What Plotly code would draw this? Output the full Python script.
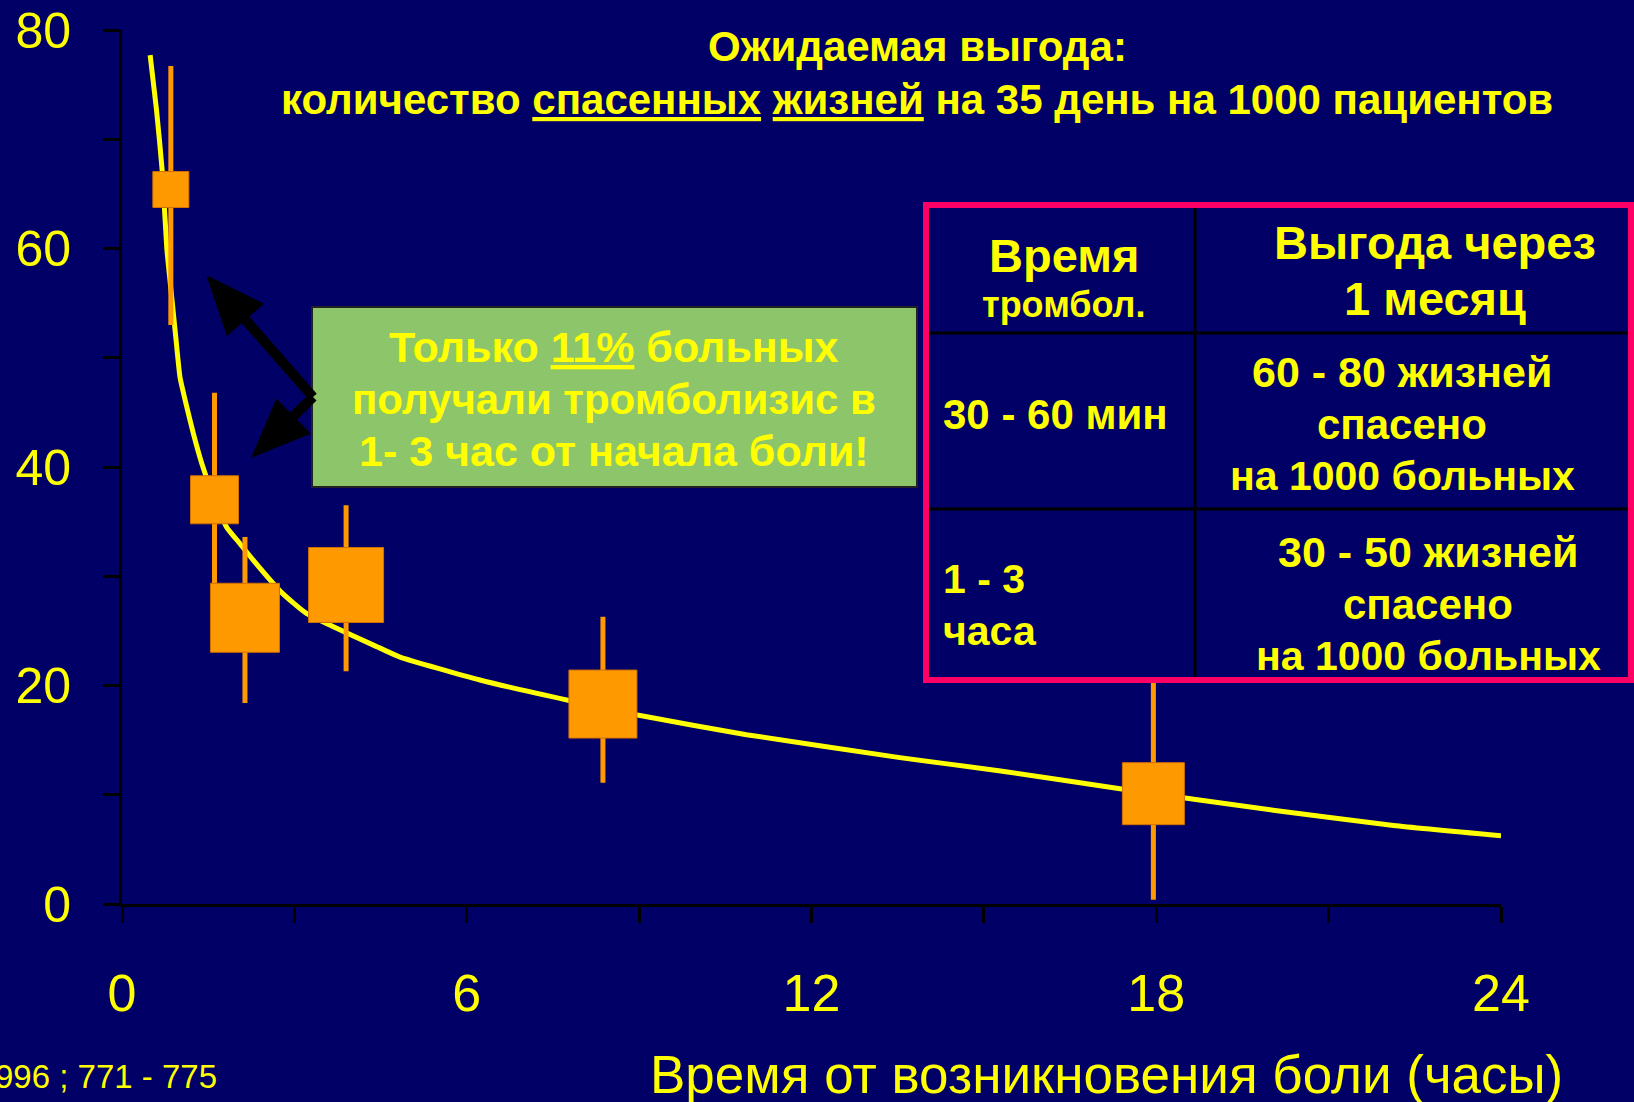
import math
import plotly.graph_objects as go

# ---------------- data ----------------
# pooled curve: expected lives saved per 1000 patients vs. hours from pain onset
curve_hours = [0.49, 0.60, 0.70, 0.78, 0.87, 0.93, 1.01, 1.10, 1.24, 1.39, 1.59, 1.82,
               2.05, 2.28, 2.78, 3.21, 4.50, 4.84, 6.23, 7.80, 8.97, 10.87, 13.54,
               15.26, 17.37, 20.07, 22.13, 24.00]
curve_lives = [77.7, 72.7, 67.1, 60.0, 55.3, 52.2, 48.2, 46.1, 43.1, 40.3, 37.3, 34.5,
               33.0, 31.5, 28.5, 26.6, 23.4, 22.6, 20.5, 18.6, 17.3, 15.5, 13.4,
               12.2, 10.55, 8.56, 7.19, 6.25]

# grouped trial results (point estimate with confidence interval)
trial_hours = [0.85, 1.61, 2.14, 3.90, 8.37, 17.95]
trial_lives = [65.4, 37.0, 26.2, 29.2, 18.3, 10.1]
ci_upper = [76.7, 46.8, 33.6, 36.5, 26.3, 20.6]
ci_lower = [53.0, 27.9, 18.4, 21.3, 11.1, 0.4]

x_tick_values = [0, 3, 6, 9, 12, 15, 18, 21, 24]
x_tick_labels = ["0", "", "6", "", "12", "", "18", "", "24"]
y_tick_values = [0, 10, 20, 30, 40, 50, 60, 70, 80]
y_tick_labels = ["0", "", "20", "", "40", "", "60", "", "80"]

# ---------------- styles ----------------
marker_px = [36, 48, 69, 75, 68, 62]
NAVY = "#000066"
YELLOW = "#FFFF00"
ORANGE = "#FF9900"
PINK = "#FF0066"
GREEN = "#8DC66A"
FONT = "Liberation Sans, Arial, sans-serif"

W_FIG, H_FIG = 1634, 1102
L, T, W, H = 122, 30, 1379, 874


def px(x):
    return (x - L) / W


def py(y):
    return (T + H - y) / H


fig = go.Figure()

fig.add_trace(go.Scatter(
    x=curve_hours, y=curve_lives, mode="lines",
    line=dict(color=YELLOW, width=5, shape="spline", smoothing=0.5),
    hoverinfo="skip"))

fig.add_trace(go.Scatter(
    x=trial_hours, y=trial_lives, mode="markers",
    marker=dict(symbol="square", size=marker_px, color=ORANGE, opacity=1,
                line=dict(width=1, color="#D07000")),
    error_y=dict(type="data", symmetric=False,
                 array=[u - v for u, v in zip(ci_upper, trial_lives)],
                 arrayminus=[v - l for v, l in zip(trial_lives, ci_lower)],
                 thickness=5, width=0, color=ORANGE),
    hoverinfo="skip"))

shapes = []
# green call-out box
shapes.append(dict(type="rect", xref="paper", yref="paper",
                   x0=px(312), x1=px(917), y0=py(487), y1=py(307),
                   fillcolor=GREEN, line=dict(color="#222222", width=2), layer="above"))


def arrow(tail, tip, head_len=58, head_half=24, width=10):
    dx, dy = tip[0] - tail[0], tip[1] - tail[1]
    n = math.hypot(dx, dy)
    ux, uy = dx / n, dy / n
    bx, by = tip[0] - ux * head_len, tip[1] - uy * head_len
    nx, ny = -uy, ux
    out = [dict(type="line", xref="paper", yref="paper",
                x0=px(tail[0]), y0=py(tail[1]), x1=px(bx + ux * 4), y1=py(by + uy * 4),
                line=dict(color="black", width=width), layer="above")]
    c1 = (bx + nx * head_half, by + ny * head_half)
    c2 = (bx - nx * head_half, by - ny * head_half)
    path = "M {} {} L {} {} L {} {} Z".format(px(tip[0]), py(tip[1]), px(c1[0]), py(c1[1]),
                                              px(c2[0]), py(c2[1]))
    out.append(dict(type="path", xref="paper", yref="paper", path=path,
                    fillcolor="black", line=dict(color="black", width=1), layer="above"))
    return out

shapes += arrow((313, 397), (207, 276))
shapes += arrow((313, 397), (252, 457))

# table
TL, TR, TT, TB = 926, 1631, 205, 680
shapes.append(dict(type="rect", xref="paper", yref="paper",
                   x0=px(TL), x1=px(TR), y0=py(TB), y1=py(TT),
                   fillcolor=NAVY, line=dict(color=PINK, width=6), layer="above"))
shapes.append(dict(type="line", xref="paper", yref="paper",
                   x0=px(1195), x1=px(1195), y0=py(TB - 3), y1=py(TT + 3),
                   line=dict(color="black", width=3), layer="above"))
for yy in (333, 509):
    shapes.append(dict(type="line", xref="paper", yref="paper",
                       x0=px(TL + 3), x1=px(TR - 3), y0=py(yy), y1=py(yy),
                       line=dict(color="black", width=3), layer="above"))

annotations = []


def txt(x, y, text, size, bold=True, xanchor="center", align="center"):
    annotations.append(dict(
        xref="paper", yref="paper", x=px(x), y=py(y), text=text, showarrow=False,
        xanchor=xanchor, yanchor="middle", align=align,
        font=dict(family=FONT, size=size, color=YELLOW,
                  weight="bold" if bold else "normal")))

# title
txt(917, 47, "Ожидаемая выгода:", 42)
txt(917, 100, "количество <u>спасенных</u> <u>жизней</u> на 35 день на 1000 пациентов", 42)

# call-out text
txt(614, 347, "Только <u>11%</u> больных", 43)
txt(614, 399, "получали тромболизис в", 42)
txt(614, 451, "1- 3 час от начала боли!", 43)

# table text
txt(1064, 255, "Время", 47)
txt(1064, 304, "тромбол.", 36)
txt(1435, 242, "Выгода через", 47)
txt(1435, 299, "1 месяц", 47)
txt(941, 414, "30 - 60 мин", 42, xanchor="left", align="left")
txt(1402, 372, "60 - 80 жизней", 43)
txt(1402, 424, "спасено", 42)
txt(1402, 476, "на 1000 больных", 41)
txt(941, 579, "1 - 3", 41, xanchor="left", align="left")
txt(941, 631, "часа", 41, xanchor="left", align="left")
txt(1428, 552, "30 - 50 жизней", 43)
txt(1428, 604, "спасено", 42)
txt(1428, 656, "на 1000 больных", 41)

# axis title and source
txt(1106, 1074, "Время от возникновения боли (часы)", 53, bold=False)
txt(219, 1076, "996 ; 771 - 775", 33, bold=False, xanchor="right", align="right")

axis_common = dict(showgrid=False, zeroline=False, showline=True, linecolor="black",
                   linewidth=3, ticks="outside", ticklen=16, tickwidth=3,
                   tickcolor="black", fixedrange=True, automargin=False)

fig.update_layout(
    width=W_FIG, height=H_FIG,
    margin=dict(l=L, r=W_FIG - L - W, t=T, b=H_FIG - T - H, pad=0, autoexpand=False),
    paper_bgcolor=NAVY, plot_bgcolor=NAVY,
    showlegend=False, hovermode=False,
    xaxis=dict(range=[0, 24], tickvals=x_tick_values, ticktext=x_tick_labels,
               tickfont=dict(family=FONT, size=52, color=YELLOW),
               ticklabelstandoff=26, **axis_common),
    yaxis=dict(range=[0, 80], tickvals=y_tick_values, ticktext=y_tick_labels,
               tickfont=dict(family=FONT, size=50, color=YELLOW),
               ticklabelstandoff=22, **axis_common),
    shapes=shapes, annotations=annotations,
)

fig.write_html("out.html", config={"displayModeBar": False},
               post_script="document.body.style.margin='0';"
                           "document.body.style.overflow='hidden';"
                           "document.documentElement.style.overflow='hidden';")
